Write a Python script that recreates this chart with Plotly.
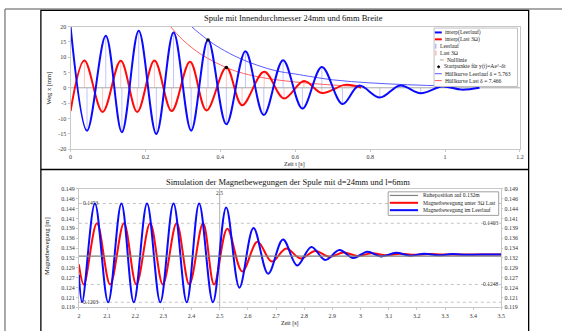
import plotly.graph_objects as go

W, H = 566, 331
FONT = "Liberation Serif"

# ---------------- top panel data ----------------
t_leer = [0.0, 0.044, 0.094, 0.137, 0.182, 0.229, 0.275, 0.322, 0.367, 0.416, 0.467, 0.516,
          0.5675, 0.619, 0.671, 0.726, 0.770, 0.826, 0.880, 0.935, 0.992, 1.044, 1.092]
x_leer = [20.0, -14.0, 17.0, -14.5, 18.6, -15.1, 18.1, -14.0, 15.7, -11.9, 11.9, -8.9,
          9.0, -6.8, 6.8, -5.3, 0.7, -3.2, 0.75, -1.8, 0.4, -0.6, 0.0]

t_last = [0.0, 0.037, 0.0856, 0.134, 0.178, 0.224, 0.270, 0.319, 0.363, 0.416, 0.458,
          0.517, 0.570, 0.623, 0.671, 0.733, 0.776]
x_last = [-7.6, 8.9, -7.9, 8.8, -7.9, 8.9, -7.6, 8.5, -7.4, 6.6, -5.7,
          5.2, -3.5, 2.2, -1.7, 0.95, 0.1]

t_null = [0.0, 1.2]
x_null = [0.0, 0.0]

t_start = [0.367, 0.416]
x_start = [15.6, 6.6]

t_env_leer = [0.30, 0.323, 0.367, 0.40, 0.45, 0.50, 0.55, 0.60, 0.70, 0.80, 0.90, 1.00, 1.09]
x_env_leer = [23.0, 20.0, 15.6, 12.9, 9.7, 7.3, 5.5, 4.5, 2.6, 1.6, 1.0, 0.6, 0.4]

t_env_last = [0.26, 0.30, 0.35, 0.416, 0.45, 0.50, 0.55, 0.60, 0.65, 0.70, 0.77]
x_env_last = [21.0, 15.6, 10.8, 6.6, 5.1, 3.6, 2.6, 1.9, 1.35, 0.9, 0.45]

top_xticks = [0, 0.2, 0.4, 0.6, 0.8, 1.0, 1.2]
top_xticktext = ["0", "0.2", "0.4", "0.6", "0.8", "1", "1.2"]
top_yticks = [-20, -15, -10, -5, 0, 5, 10, 15, 20]
top_yticktext = ["-20", "-15", "-10", "-5", "0", "5", "10", "15", "20"]

# ---------------- bottom panel data ----------------
t_blue = [2.0, 2.0116, 2.057, 2.104, 2.151, 2.195, 2.242, 2.289, 2.336, 2.383, 2.427, 2.476,
          2.523, 2.570, 2.620, 2.672, 2.7247, 2.775, 2.8254, 2.8746, 2.925, 2.974, 3.024,
          3.073, 3.126, 3.177, 3.226, 3.276, 3.326, 3.376, 3.426, 3.5]
y_blue = [0.1273, 0.1203, 0.1453, 0.1203, 0.1453, 0.1203, 0.1453, 0.1203, 0.1453, 0.1203,
          0.1453, 0.1203, 0.1443, 0.1240, 0.1391, 0.1275, 0.1362, 0.1296, 0.1343, 0.1310,
          0.1335, 0.1315, 0.1331, 0.1319, 0.1328, 0.1321, 0.1326, 0.1322, 0.1325, 0.1323,
          0.1324, 0.1324]

t_red = [2.0, 2.0176, 2.064, 2.111, 2.160, 2.204, 2.253, 2.298, 2.347, 2.392, 2.441, 2.480,
         2.527, 2.580, 2.634, 2.685, 2.736, 2.787, 2.839, 2.890, 2.940, 2.990, 3.040, 3.090,
         3.140, 3.190, 3.240, 3.290, 3.340, 3.5]
y_red = [0.1299, 0.1248, 0.1403, 0.1248, 0.1403, 0.1248, 0.1403, 0.1248, 0.1403, 0.1248,
         0.1403, 0.1248, 0.1389, 0.1281, 0.1356, 0.1306, 0.1339, 0.1314, 0.1333, 0.1318,
         0.1329, 0.1320, 0.1327, 0.1322, 0.1326, 0.1323, 0.1325, 0.1324, 0.1324, 0.1324]

t_ruhe = [2.0, 3.5]
y_ruhe = [0.132, 0.132]

mark_levels = [0.1453, 0.1203, 0.1403, 0.1248]
mark_labels = ["0.1453", "0.1203", "0.1403", "0.1248"]
mark_side = ["left", "left", "right", "right"]
t_mark = 2.5

bot_xticks = [2.0, 2.1, 2.2, 2.3, 2.4, 2.5, 2.6, 2.7, 2.8, 2.9, 3.0, 3.1, 3.2, 3.3, 3.4, 3.5]
bot_xticktext = ["2", "2.1", "2.2", "2.3", "2.4", "2.5", "2.6", "2.7", "2.8", "2.9",
                 "3", "3.1", "3.2", "3.3", "3.4", "3.5"]
bot_yticks = [0.119, 0.1215, 0.124, 0.1265, 0.129, 0.1315, 0.134, 0.1365, 0.139, 0.1415,
              0.144, 0.1465, 0.149]
bot_yticktext = ["0.119", "0.121", "0.124", "0.127", "0.129", "0.132", "0.134", "0.136",
                 "0.139", "0.141", "0.144", "0.146", "0.149"]


def px(x):
    return x / W


def py(y):
    return 1 - y / H


def stems(ts, vs):
    xs, ys = [], []
    for t, v in zip(ts, vs):
        xs += [t, t, None]
        ys += [0, v, None]
    return xs, ys


BLUE = "#0a0aff"
RED = "#ff0a0a"
ENV_BLUE = "#5a5aff"
ENV_RED = "#ff6060"

fig = go.Figure()

# ---- top traces
sx, sy = stems(t_leer[1:-1], x_leer[1:-1])
fig.add_trace(go.Scatter(x=sx, y=sy, mode="lines", line=dict(color="rgba(60,60,255,0.3)", width=1),
                         name="Leerlauf", showlegend=False, xaxis="x", yaxis="y"))
sx, sy = stems(t_last[1:-1], x_last[1:-1])
fig.add_trace(go.Scatter(x=sx, y=sy, mode="lines", line=dict(color="rgba(255,60,60,0.3)", width=1),
                         name="Last 3Ω", showlegend=False, xaxis="x", yaxis="y"))
fig.add_trace(go.Scatter(x=t_null, y=x_null, mode="lines", line=dict(color="#a8a8a8", width=1),
                         name="Nulllinie", showlegend=False, xaxis="x", yaxis="y"))
fig.add_trace(go.Scatter(x=t_env_leer, y=x_env_leer, mode="lines", line=dict(color=ENV_BLUE, width=1, shape="spline"),
                         showlegend=False, xaxis="x", yaxis="y"))
fig.add_trace(go.Scatter(x=t_env_last, y=x_env_last, mode="lines", line=dict(color=ENV_RED, width=1, shape="spline"),
                         showlegend=False, xaxis="x", yaxis="y"))
fig.add_trace(go.Scatter(x=t_last, y=x_last, mode="lines", line=dict(color=RED, width=2, shape="spline", smoothing=1.0),
                         showlegend=False, xaxis="x", yaxis="y"))
fig.add_trace(go.Scatter(x=t_leer, y=x_leer, mode="lines", line=dict(color=BLUE, width=2, shape="spline", smoothing=1.0),
                         showlegend=False, xaxis="x", yaxis="y"))
fig.add_trace(go.Scatter(x=t_start, y=x_start, mode="markers", marker=dict(color="black", size=3.5),
                         showlegend=False, xaxis="x", yaxis="y"))

# ---- bottom traces
fig.add_trace(go.Scatter(x=t_ruhe, y=y_ruhe, mode="lines", line=dict(color="#808080", width=1.3),
                         showlegend=False, xaxis="x2", yaxis="y3"))
fig.add_trace(go.Scatter(x=t_red, y=y_red, mode="lines", line=dict(color=RED, width=2, shape="spline"),
                         showlegend=False, xaxis="x2", yaxis="y2"))
fig.add_trace(go.Scatter(x=t_blue, y=y_blue, mode="lines", line=dict(color=BLUE, width=2, shape="spline"),
                         showlegend=False, xaxis="x2", yaxis="y2"))

tickfont = dict(family=FONT, size=6, color="#333333")
axcommon = dict(showgrid=False, zeroline=False, showline=True, mirror=True, linecolor="#c8c8c8",
                linewidth=1, ticks="outside", ticklen=2, tickcolor="#c8c8c8", tickfont=tickfont)

fig.update_layout(
    width=W, height=H, autosize=False, margin=dict(l=0, r=0, t=0, b=0),
    paper_bgcolor="white", plot_bgcolor="white", showlegend=False,
    font=dict(family=FONT, size=7, color="#222222"),
    xaxis=dict(domain=[px(69.3), px(523.5)], range=[0, 1.2], tickvals=top_xticks,
               ticktext=top_xticktext, anchor="y", **axcommon),
    yaxis=dict(domain=[py(148.7), py(24)], range=[-20, 20], tickvals=top_yticks,
               ticktext=top_yticktext, anchor="x", **axcommon),
    xaxis2=dict(domain=[px(77.7), px(504.7)], range=[2, 3.5], tickvals=bot_xticks,
                ticktext=bot_xticktext, anchor="y2", **axcommon),
    yaxis2=dict(domain=[py(310), py(189.3)], range=[0.119, 0.149], tickvals=bot_yticks,
                ticktext=bot_yticktext, anchor="x2", **axcommon),
    yaxis3=dict(range=[0.119, 0.149], tickvals=bot_yticks, ticktext=bot_yticktext,
                overlaying="y2", side="right", anchor="x2", showgrid=False, zeroline=False,
                ticks="outside", ticklen=1, tickcolor="#c8c8c8", tickfont=tickfont),
)

shapes = []
annotations = []

# document frame
shapes.append(dict(type="line", xref="paper", yref="paper", x0=px(3), x1=px(566), y0=py(6), y1=py(6),
                   line=dict(color="#8c8c8c", width=1.5)))
shapes.append(dict(type="line", xref="paper", yref="paper", x0=px(3), x1=px(3), y0=py(6), y1=py(335),
                   line=dict(color="#8c8c8c", width=1.5)))
shapes.append(dict(type="rect", xref="paper", yref="paper", x0=px(39.3), x1=px(532.3), y0=py(7.5), y1=py(340),
                   line=dict(color="black", width=1.3)))
shapes.append(dict(type="line", xref="paper", yref="paper", x0=px(39.3), x1=px(532.3), y0=py(169.5), y1=py(169.5),
                   line=dict(color="black", width=1.6)))

# bottom markers (dotted levels + vertical line)
for lv, lab, side in zip(mark_levels, mark_labels, mark_side):
    shapes.append(dict(type="line", xref="x2 domain", yref="y2", x0=0, x1=1, y0=lv, y1=lv,
                       line=dict(color="#c4c4c4", width=1, dash="dot"), layer="below"))
    annotations.append(dict(xref="x2 domain", yref="y2", x=0.006 if side == "left" else 0.997, y=lv,
                            text=lab, showarrow=False, xanchor="left" if side == "left" else "right",
                            yanchor="middle", font=dict(family=FONT, size=5.5, color="#333333")))
shapes.append(dict(type="line", xref="x2", yref="y2 domain", x0=t_mark, x1=t_mark, y0=0, y1=1,
                   line=dict(color="#b0b0b0", width=1), layer="below"))
annotations.append(dict(xref="x2", yref="paper", x=t_mark, y=py(193), text=str(t_mark), showarrow=False,
                        xanchor="center", yanchor="middle", font=dict(family=FONT, size=5.5, color="#333333")))

# titles and axis titles
def txt(x, y, s, size, angle=0, color="#111111"):
    annotations.append(dict(xref="paper", yref="paper", x=px(x), y=py(y), text=s, showarrow=False,
                            xanchor="center", yanchor="middle", textangle=angle,
                            font=dict(family=FONT, size=size, color=color)))

txt(295, 15.5, "Spule mit Innendurchmesser 24mm und 6mm Breite", 8.5)
txt(296, 164.5, "Zeit t [s]", 6)
txt(47.5, 86, "Weg x [mm]", 6.5, angle=-90)
txt(289, 182, "Simulation der Magnetbewegungen der Spule mit d=24mm und l=6mm", 8.5)
txt(291, 326, "Zeit [s]", 6)
txt(45, 248, "Magnetbewegung [m]", 6.5, angle=-90)

# ---- manual legend, top
LEG_FONT = dict(family=FONT, size=5.6, color="#222222")
shapes.append(dict(type="rect", xref="paper", yref="paper", x0=px(436.7), x1=px(521), y0=py(25.5), y1=py(85),
                   line=dict(color="#c0c0c0", width=1), fillcolor="white", layer="above"))
top_entries = [
    ("interp(Leerlauf)", "thick", BLUE),
    ("interp(Last 3Ω)", "thick", RED),
    ("Leerlauf", "stem", "rgba(60,60,255,0.55)"),
    ("Last 3Ω", "stem", "rgba(255,60,60,0.55)"),
    ("Nulllinie", "null", "#a8a8a8"),
    ("Startpunkte für y(t)=Ae^-δt", "dot", "black"),
    ("Hüllkurve Leerlauf δ = 5.763", "thin", ENV_BLUE),
    ("Hüllkurve Last δ = 7.466", "thin", ENV_RED),
]
for i, (lab, kind, col) in enumerate(top_entries):
    yy = 30.0 + 7.0 * i
    if kind in ("thick", "thin"):
        shapes.append(dict(type="line", xref="paper", yref="paper", x0=px(437.5), x1=px(444.5), y0=py(yy), y1=py(yy),
                           line=dict(color=col, width=2 if kind == "thick" else 1)))
        tx = 445.5
    elif kind == "stem":
        shapes.append(dict(type="line", xref="paper", yref="paper", x0=px(438.5), x1=px(438.5), y0=py(yy + 2.5), y1=py(yy - 2.5),
                           line=dict(color=col, width=1)))
        tx = 440.5
    elif kind == "null":
        shapes.append(dict(type="line", xref="paper", yref="paper", x0=px(442.5), x1=px(446.5), y0=py(yy), y1=py(yy),
                           line=dict(color=col, width=1)))
        tx = 447.5
    else:
        shapes.append(dict(type="circle", xref="paper", yref="paper", x0=px(440.3), x1=px(442.3), y0=py(yy - 1), y1=py(yy + 1),
                           line=dict(color=col, width=1), fillcolor=col))
        tx = 444.5
    annotations.append(dict(xref="paper", yref="paper", x=px(tx), y=py(yy), text=lab, showarrow=False,
                            xanchor="left", yanchor="middle", font=LEG_FONT))

# ---- manual legend, bottom
shapes.append(dict(type="rect", xref="paper", yref="paper", x0=px(390.3), x1=px(502), y0=py(192.3), y1=py(216.3),
                   line=dict(color="#a0a0a0", width=1), fillcolor="white", layer="above"))
bot_entries = [
    ("Ruheposition auf 0.132m", "#808080", 1.2),
    ("Magnetbewegung unter 3Ω Last", RED, 2),
    ("Magnetbewegung im Leerlauf", BLUE, 2),
]
for i, (lab, col, wd) in enumerate(bot_entries):
    yy = 196.0 + 7.5 * i
    shapes.append(dict(type="line", xref="paper", yref="paper", x0=px(392), x1=px(420.5), y0=py(yy), y1=py(yy),
                       line=dict(color=col, width=wd)))
    annotations.append(dict(xref="paper", yref="paper", x=px(423), y=py(yy), text=lab, showarrow=False,
                            xanchor="left", yanchor="middle", font=LEG_FONT))

fig.update_layout(shapes=shapes, annotations=annotations)
fig.write_html("out.html", config={"displayModeBar": False},
               post_script="document.body.style.margin='0';document.body.style.overflow='hidden';")
